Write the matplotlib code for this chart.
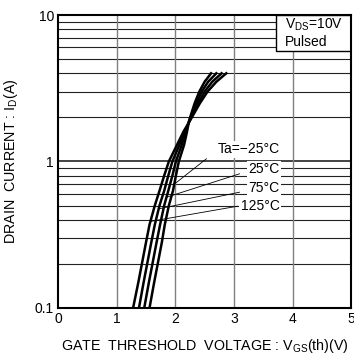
import numpy as np
import matplotlib
matplotlib.use("Agg")
import matplotlib.pyplot as plt
from matplotlib.patches import Rectangle
from matplotlib.ticker import FixedLocator, FixedFormatter

plt.rcParams['font.family'] = ['Liberation Sans', 'DejaVu Sans']
plt.rcParams['mathtext.fontset'] = 'custom'
plt.rcParams['mathtext.rm'] = 'Liberation Sans'

# drain current (A) and gate threshold voltage (V)
current = [0.1, 0.15, 0.2, 0.28, 0.37, 0.5, 0.63, 0.8, 1.0, 1.3, 1.6, 1.9, 2.5, 3.0, 3.5, 4.0]
vgs_125 = [1.28, 1.37, 1.43, 1.50, 1.56, 1.65, 1.73, 1.81, 1.89, 2.03, 2.14, 2.25, 2.42, 2.55, 2.70, 2.87]
vgs_75 = [1.38, 1.46, 1.52, 1.59, 1.65, 1.73, 1.81, 1.88, 1.95, 2.07, 2.16, 2.245, 2.39, 2.50, 2.63, 2.79]
vgs_25 = [1.47, 1.55, 1.61, 1.68, 1.74, 1.81, 1.88, 1.95, 2.01, 2.11, 2.18, 2.24, 2.36, 2.45, 2.56, 2.70]
vgs_m25 = [1.56, 1.64, 1.70, 1.77, 1.82, 1.89, 1.96, 2.01, 2.06, 2.15, 2.20, 2.235, 2.33, 2.41, 2.50, 2.61]

labels = ['Ta=\u221225\u00b0C', '25\u00b0C', '75\u00b0C', '125\u00b0C']
curves = [vgs_m25, vgs_25, vgs_75, vgs_125]
# label text anchor (right edge V, center I), leader start, current where leader hits curve
label_pos = [(3.78, 1.21), (3.78, 0.882), (3.78, 0.659), (3.78, 0.493)]
leader_start = [(2.53, 1.043), (3.095, 0.824), (3.095, 0.617), (3.06, 0.495)]
leader_hit = [0.70, 0.57, 0.475, 0.39]

fig = plt.figure(figsize=(3.54, 3.58), dpi=100)
ax = fig.add_axes([0.164, 0.1397, 0.828, 0.8184])

ax.set_yscale('log')
ax.set_xlim(0, 5)
ax.set_ylim(0.1, 10)

minor = [m * d for d in (0.1, 1) for m in range(2, 10)]
for y in minor:
    ax.axhline(y, color='#222222', lw=0.8, zorder=1)
ax.axhline(1, color='#222222', lw=1.2, zorder=1)
for x in range(1, 5):
    ax.axvline(x, color='#808080', lw=1.0, zorder=1)

for v in curves:
    ax.plot(v, current, color='black', lw=1.8, zorder=3)

logI = np.log10(current)
for lab, c, (tx, ty), (sx, sy), hit in zip(labels, curves, label_pos, leader_start, leader_hit):
    hx = np.interp(np.log10(hit), logI, c)
    ax.plot([sx, hx], [sy, hit], color='black', lw=0.6, zorder=3)
    ax.text(tx, ty, lab, ha='right', va='center', fontsize=10, zorder=4,
            bbox=dict(fc='white', ec='none', pad=1.0))

ax.add_patch(Rectangle((0.744, 0.878), 0.256, 0.122, transform=ax.transAxes,
                       fc='white', ec='black', lw=1.0, zorder=4))
ax.text(0.775, 0.966, 'V$_\\mathregular{DS}$=10V', transform=ax.transAxes,
        ha='left', va='center', fontsize=10, zorder=5)
ax.text(0.775, 0.908, 'Pulsed', transform=ax.transAxes,
        ha='left', va='center', fontsize=10, zorder=5)

ax.xaxis.set_major_locator(FixedLocator([0, 1, 2, 3, 4, 5]))
ax.yaxis.set_major_locator(FixedLocator([0.1, 1, 10]))
ax.yaxis.set_major_formatter(FixedFormatter(['0.1', '1', '10']))
ax.yaxis.set_minor_locator(FixedLocator([]))
ax.tick_params(length=0, labelsize=10, pad=3)

for s in ax.spines.values():
    s.set_linewidth(1.5)
    s.set_color('black')
    s.set_zorder(6)

ax.set_xlabel('GATE  THRESHOLD  VOLTAGE : V$_\\mathregular{GS}$(th)(V)', fontsize=10.3)
ax.set_ylabel('DRAIN  CURRENT : I$_\\mathregular{D}$(A)', fontsize=10.3)
ax.xaxis.set_label_coords(0.5, -0.099)
ax.yaxis.set_label_coords(-0.129, 0.5)

fig.savefig('out.png', dpi=100)
